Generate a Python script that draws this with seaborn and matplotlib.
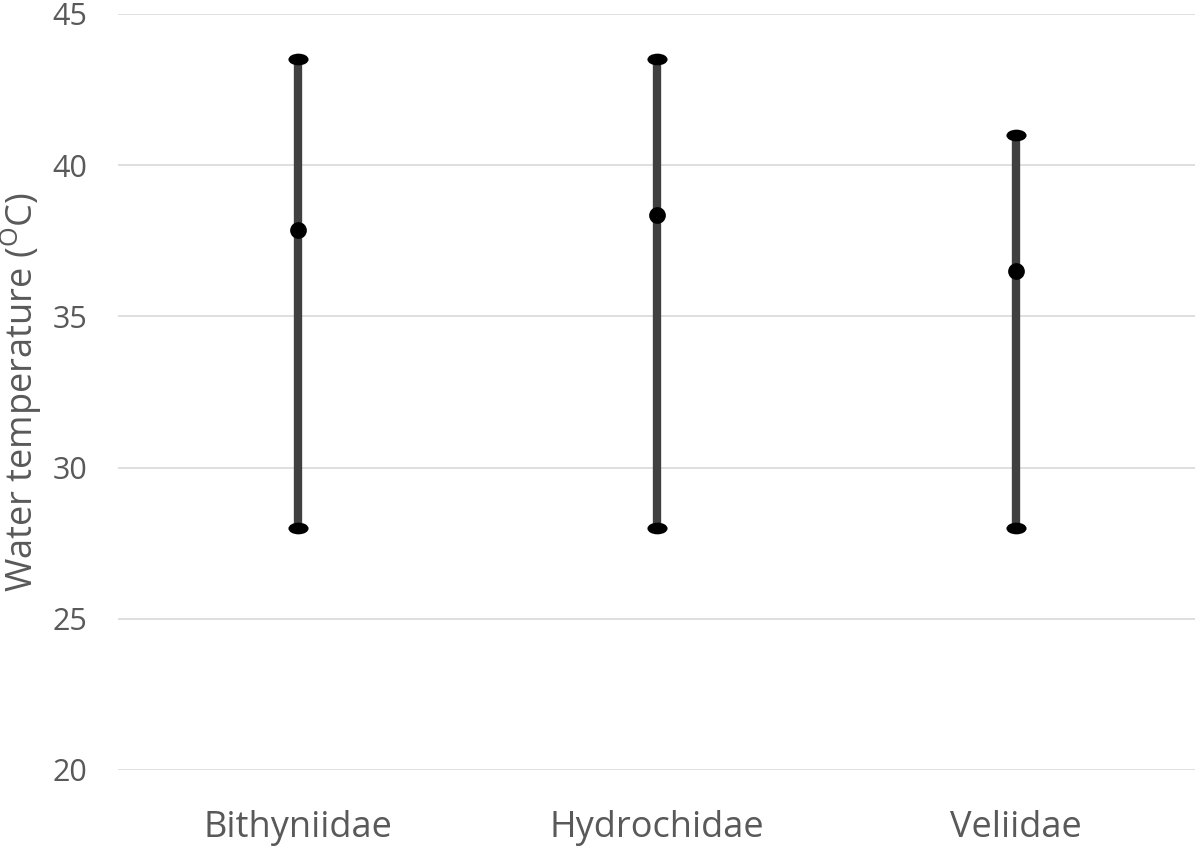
import numpy as np
import pandas as pd
import matplotlib
matplotlib.use("Agg")
import matplotlib.pyplot as plt
from matplotlib.path import Path
from matplotlib.transforms import Affine2D
import seaborn as sns

families = ["Bithyniidae", "Hydrochidae", "Veliidae"]
t_min = [28.0, 28.0, 28.0]
t_mean = [37.85, 38.35, 36.5]
t_max = [43.5, 43.5, 41.0]
y_ticks = [20, 25, 30, 35, 40, 45]

rows = []
for f, a, m, b in zip(families, t_min, t_mean, t_max):
    for v in (a, m, b):
        rows.append({"family": f, "temp": v})
df = pd.DataFrame(rows)
ends = pd.DataFrame({"family": families * 2, "temp": t_min + t_max})

sns.set_theme(style="white")
plt.rcParams["font.family"] = ["Open Sans", "DejaVu Sans"]
plt.rcParams["mathtext.fontset"] = "custom"
plt.rcParams["mathtext.rm"] = "Open Sans"

fig = plt.figure(figsize=(12, 8.48), dpi=100)
ax = fig.add_axes([0.0983, 0.092, 0.8977, 0.8915])

for y in y_ticks:
    ax.axhline(y, color="#d9d9d9", linewidth=1.2, zorder=0)

sns.pointplot(data=df, x="family", y="temp", order=families,
              estimator="median", errorbar=lambda v: (v.min(), v.max()),
              linestyle="none", color="black", markersize=10,
              err_kws={"color": "#404040", "linewidth": 6, "zorder": 2},
              ax=ax)

ell = Path.unit_circle().transformed(Affine2D().scale(1.0, 0.58))
sns.scatterplot(data=ends, x="family", y="temp", marker=ell, s=210,
                color="black", edgecolor="black", linewidth=0, ax=ax,
                zorder=4, legend=False)
for ln in ax.lines:
    if ln.get_marker() not in (None, "None", ""):
        ln.set_zorder(5)

ax.set_xlim(-0.5, 2.5)
ax.set_ylim(20, 45)
ax.set_yticks(y_ticks)
ax.set_xlabel("")
ax.set_ylabel("Water temperature ($\\mathregular{^{O}}$C)", fontsize=26,
              color="#595959")
ax.yaxis.set_label_coords(-0.069, 0.5)
ax.tick_params(axis="both", length=0, labelcolor="#595959")
ax.tick_params(axis="y", pad=22, labelsize=22)
ax.tick_params(axis="x", pad=29, labelsize=26)
for s in ax.spines.values():
    s.set_visible(False)

fig.savefig("out.png", dpi=100)
